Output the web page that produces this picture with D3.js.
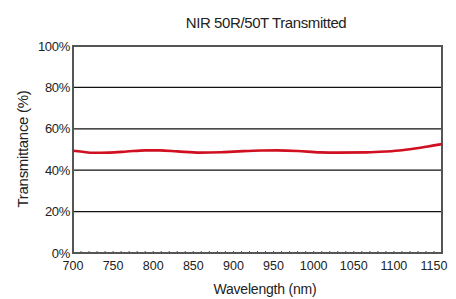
<!DOCTYPE html>
<html lang="en">
<head>
  <meta charset="UTF-8">
  <title>NIR 50R/50T Transmitted</title>
  <script src="https://cdn.jsdelivr.net/npm/d3@7"></script>
  <style>
    body { margin: 0; background: #fff; }
    text { font-family: "Liberation Sans", Arial, sans-serif; fill: #222; }
  </style>
</head>
<body>
<svg id="chart"></svg>
<script>
  // values
  const wavelengths = [700, 712, 725, 745, 767, 790, 808, 830, 858, 885, 912, 935, 955, 980, 1008, 1030, 1066, 1090, 1110, 1120, 1135, 1150, 1160]
  const transmitted = [49.4, 48.9, 48.4, 48.5, 49.0, 49.6, 49.6, 49.1, 48.5, 48.7, 49.2, 49.5, 49.6, 49.3, 48.6, 48.5, 48.6, 49.0, 49.6, 50.1, 51.0, 52.0, 52.6]
  const yTicks = [0, 20, 40, 60, 80, 100]
  const xTicks = [700, 750, 800, 850, 900, 950, 1000, 1050, 1100, 1150]

  const width = 456, height = 299
  const m = { top: 46, right: 14, bottom: 46, left: 73 }

  const svg = d3.select("#chart").attr("width", width).attr("height", height)

  const x = d3.scaleLinear().domain([700, 1160]).range([m.left, width - m.right])
  const y = d3.scaleLinear().domain([0, 100]).range([height - m.bottom, m.top])

  // gridlines
  svg.append("g")
    .selectAll("line")
    .data(yTicks.filter(d => d > 0 && d < 100))
    .join("line")
    .attr("x1", m.left).attr("x2", width - m.right)
    .attr("y1", d => y(d)).attr("y2", d => y(d))
    .attr("stroke", "#111").attr("stroke-width", 1.2)

  // minor ticks along the bottom
  svg.append("g")
    .selectAll("line")
    .data(d3.range(710, 1160, 10))
    .join("line")
    .attr("x1", d => x(d)).attr("x2", d => x(d))
    .attr("y1", y(0)).attr("y2", y(0) - 2)
    .attr("stroke", "#555").attr("stroke-width", 1)

  // frame
  svg.append("rect")
    .attr("x", m.left).attr("y", m.top)
    .attr("width", width - m.right - m.left)
    .attr("height", y(0) - m.top)
    .attr("fill", "none").attr("stroke", "#555").attr("stroke-width", 2)

  // data line
  const line = d3.line().x((d, i) => x(wavelengths[i])).y(d => y(d)).curve(d3.curveMonotoneX)
  svg.append("path")
    .datum(transmitted)
    .attr("d", line)
    .attr("fill", "none")
    .attr("stroke", "#d01020")
    .attr("stroke-width", 2.6)

  // tick labels
  svg.append("g")
    .selectAll("text")
    .data(yTicks)
    .join("text")
    .attr("x", m.left - 3).attr("y", d => y(d) + 4.5)
    .attr("text-anchor", "end")
    .attr("font-size", 13)
    .attr("letter-spacing", -0.3)
    .text(d => d + "%")

  svg.append("g")
    .selectAll("text")
    .data(xTicks)
    .join("text")
    .attr("x", d => x(d)).attr("y", y(0) + 17)
    .attr("text-anchor", "middle")
    .attr("font-size", 12.5)
    .text(d => d)

  // titles
  svg.append("text")
    .attr("x", 266).attr("y", 28)
    .attr("text-anchor", "middle").attr("font-size", 15)
    .attr("letter-spacing", -0.4)
    .text("NIR 50R/50T Transmitted")

  svg.append("text")
    .attr("x", 265).attr("y", 294)
    .attr("text-anchor", "middle").attr("font-size", 14)
    .attr("letter-spacing", -0.2)
    .text("Wavelength (nm)")

  svg.append("text")
    .attr("transform", "translate(28,149) rotate(-90)")
    .attr("text-anchor", "middle").attr("font-size", 15)
    .attr("letter-spacing", -0.3)
    .text("Transmittance (%)")
</script>
</body>
</html>
